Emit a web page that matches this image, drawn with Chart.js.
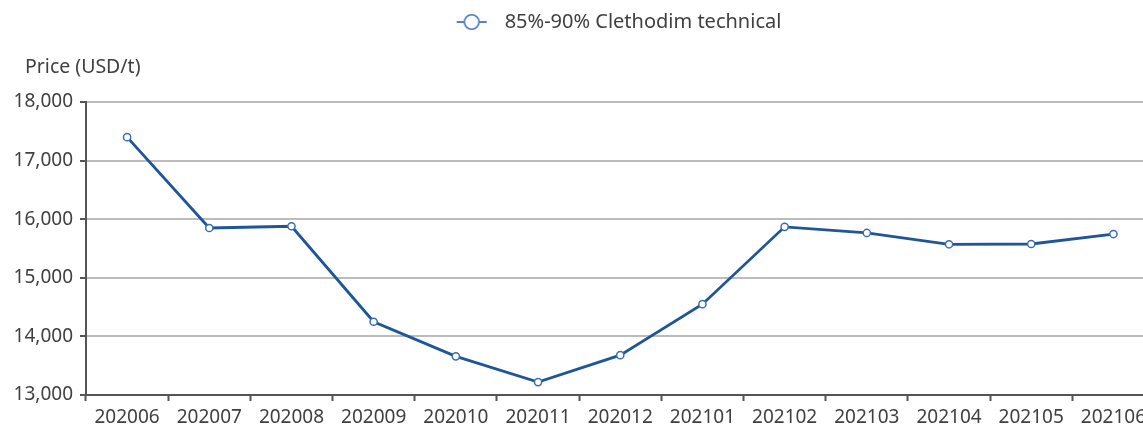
<!DOCTYPE html>
<html>
<head>
<meta charset="utf-8">
<script src="https://cdn.jsdelivr.net/npm/chart.js@4.4.1/dist/chart.umd.min.js"></script>
<style>
  html, body { margin: 0; padding: 0; background: #fff; overflow: hidden; }
  #wrap { position: relative; width: 1160px; height: 425px; }
</style>
</head>
<body>
<div id="wrap"><canvas id="c"></canvas></div>
<script>
const categories = ['202006','202007','202008','202009','202010','202011','202012','202101','202102','202103','202104','202105','202106'];
const prices = [17400, 15850, 15880, 14250, 13660, 13220, 13680, 14550, 15870, 15765, 15572, 15577, 15747];
const seriesName = '85%-90% Clethodim technical';
const yTitle = 'Price (USD/t)';

const FONT = '"Noto Sans", "Open Sans", sans-serif';
const TEXT = '#404040';
const LINE = '#1f5599';

// legend symbol: line with hollow circle (left blank area shifts legend to match reference)
const SYM_OFF = 78;
const sym = document.createElement('canvas');
sym.width = SYM_OFF + 38; sym.height = 18;
(function(){
  const g = sym.getContext('2d');
  g.strokeStyle = '#5583c4'; g.lineWidth = 2;
  g.beginPath(); g.moveTo(SYM_OFF, 9); g.lineTo(SYM_OFF + 30, 9); g.stroke();
  g.beginPath(); g.arc(SYM_OFF + 15, 9, 7.3, 0, Math.PI*2);
  g.fillStyle = '#fff'; g.fill();
  g.lineWidth = 1.6; g.strokeStyle = '#4a78bd'; g.stroke();
})();

const yTitlePlugin = {
  id: 'yTitlePlugin',
  afterInit(chart) {
    const lg = chart.legend;
    if (lg) {
      const orig = lg.fit;
      lg.fit = function() { orig.call(this); this.height += 60; };
    }
  },
  afterDraw(chart) {
    const ctx = chart.ctx;
    ctx.save();
    ctx.font = '19.5px ' + FONT;
    ctx.fillStyle = TEXT;
    ctx.textAlign = 'left';
    ctx.textBaseline = 'middle';
    ctx.fillText(yTitle, 25, 67);
    ctx.restore();
  }
};

new Chart(document.getElementById('c'), {
  type: 'line',
  data: {
    labels: categories,
    datasets: [{
      label: seriesName,
      data: prices,
      borderColor: LINE,
      borderWidth: 2.8,
      pointRadius: 3.6,
      pointBorderWidth: 1.5,
      pointBackgroundColor: '#fff',
      pointBorderColor: '#3a6db3',
      tension: 0,
      fill: false
    }]
  },
  options: {
    responsive: true,
    maintainAspectRatio: false,
    animation: false,
    layout: { padding: { top: 4, right: 0, bottom: 0, left: 0 } },
    plugins: {
      legend: {
        display: true,
        position: 'top',
        align: 'center',
        labels: {
          usePointStyle: true,
          pointStyleWidth: SYM_OFF + 38,
          color: TEXT,
          font: { family: FONT, size: 20 },
          padding: 8,
          generateLabels(chart) {
            return [{
              text: seriesName,
              pointStyle: sym,
              fillStyle: '#fff',
              strokeStyle: LINE,
              fontColor: TEXT,
              lineWidth: 0,
              hidden: false,
              datasetIndex: 0
            }];
          }
        }
      },
      tooltip: { enabled: false }
    },
    scales: {
      x: {
        offset: true,
        grid: {
          offset: true,
          drawOnChartArea: false,
          drawTicks: true,
          tickLength: 6,
          tickColor: '#555',
          tickWidth: 2
        },
        border: { color: '#555', width: 2 },
        ticks: {
          color: TEXT,
          font: { family: FONT, size: 19 },
          padding: 5,
          maxRotation: 0,
          autoSkip: false
        },
        afterFit(scale) { scale.height = 30; }
      },
      y: {
        min: 13000,
        max: 18000,
        grid: {
          color: '#bcbcbc',
          lineWidth: 2,
          tickLength: 6,
          tickColor: '#555',
          tickWidth: 2
        },
        border: { color: '#555', width: 2 },
        ticks: {
          stepSize: 1000,
          color: TEXT,
          font: { family: FONT, size: 19 },
          padding: 7,
          callback: (v) => v.toLocaleString('en-US')
        },
        afterFit(scale) { scale.width = 86; }
      }
    }
  },
  plugins: [yTitlePlugin]
});
</script>
</body>
</html>
